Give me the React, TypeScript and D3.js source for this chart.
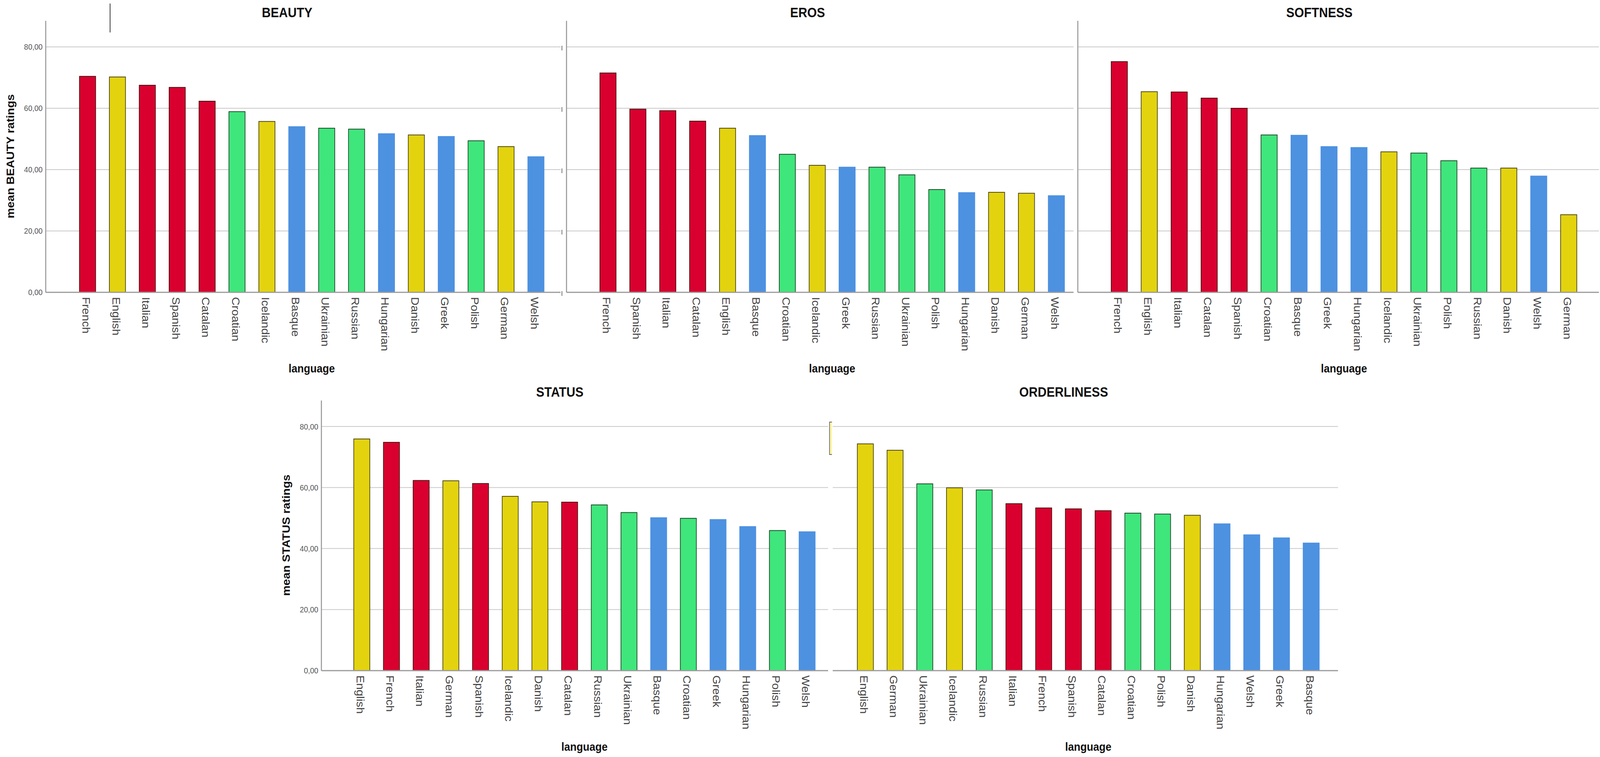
import * as d3 from "d3";

// language families (bar colours)
const romance = ["French", "Italian", "Spanish", "Catalan"];
const germanic = ["English", "Icelandic", "Danish", "German"];
const slavic = ["Croatian", "Ukrainian", "Russian", "Polish"];
const others = ["Basque", "Hungarian", "Greek", "Welsh"];

const yTicks = [0, 20, 40, 60, 80];

const beautyLangs = ["French", "English", "Italian", "Spanish", "Catalan", "Croatian", "Icelandic", "Basque", "Ukrainian", "Russian", "Hungarian", "Danish", "Greek", "Polish", "German", "Welsh"];
const beautyMeans = [70.4, 70.2, 67.5, 66.8, 62.3, 58.9, 55.7, 54.0, 53.5, 53.2, 51.7, 51.3, 50.8, 49.4, 47.5, 44.2];

const erosLangs = ["French", "Spanish", "Italian", "Catalan", "English", "Basque", "Croatian", "Icelandic", "Greek", "Russian", "Ukrainian", "Polish", "Hungarian", "Danish", "German", "Welsh"];
const erosMeans = [71.5, 59.7, 59.2, 55.8, 53.5, 51.1, 45.0, 41.4, 40.8, 40.8, 38.3, 33.5, 32.5, 32.6, 32.3, 31.5];

const softLangs = ["French", "English", "Italian", "Catalan", "Spanish", "Croatian", "Basque", "Greek", "Hungarian", "Icelandic", "Ukrainian", "Polish", "Russian", "Danish", "Welsh", "German"];
const softMeans = [75.2, 65.4, 65.3, 63.3, 60.0, 51.3, 51.2, 47.5, 47.2, 45.8, 45.4, 42.9, 40.5, 40.5, 37.9, 25.3];

const statusLangs = ["English", "French", "Italian", "German", "Spanish", "Icelandic", "Danish", "Catalan", "Russian", "Ukrainian", "Basque", "Croatian", "Greek", "Hungarian", "Polish", "Welsh"];
const statusMeans = [75.9, 74.8, 62.3, 62.2, 61.3, 57.1, 55.3, 55.2, 54.3, 51.8, 50.1, 49.9, 49.5, 47.2, 45.9, 45.5];

const orderLangs = ["English", "German", "Ukrainian", "Icelandic", "Russian", "Italian", "French", "Spanish", "Catalan", "Croatian", "Polish", "Danish", "Hungarian", "Welsh", "Greek", "Basque"];
const orderMeans = [74.3, 72.2, 61.2, 59.9, 59.2, 54.7, 53.3, 53.0, 52.4, 51.6, 51.3, 50.9, 48.1, 44.5, 43.5, 41.8];

const FONT = "'Liberation Sans', Arial, sans-serif";
const NARROW = "'Liberation Sans Narrow', 'Arial Narrow', 'Liberation Sans', Arial, sans-serif";

const fillFor = (lang: string) =>
  romance.includes(lang) ? "#d9002f" : germanic.includes(lang) ? "#e3d30f" : slavic.includes(lang) ? "#3fe67b" : "#4d91e1";
const strokeFor = (lang: string) =>
  romance.includes(lang) ? "#4a1010" : germanic.includes(lang) ? "#4e4818" : slavic.includes(lang) ? "#1f4a2c" : "#4d91e1";

const fmt = (v: number) => d3.format(".2f")(v).replace(".", ",");

type PanelProps = {
  title: string;
  langs: string[];
  means: number[];
  x0: number;
  gridStart: number;
  gridEnd: number;
  base: number;
  unit: number;
  pitch: number;
  lead: number;
  axisLine: boolean;
  tickLabels: boolean;
  stubTicks: boolean;
};

function Panel(p: PanelProps) {
  const y = d3.scaleLinear().domain([0, 80]).range([p.base, p.base - 80 * p.unit]);
  const x = d3
    .scaleBand<string>()
    .domain(p.langs)
    .range([p.x0 + p.lead, p.x0 + p.lead + 15 * p.pitch + 46])
    .paddingInner(0.46)
    .paddingOuter(0);
  const bw = x.bandwidth();
  const mid = ((x(p.langs[0]) ?? 0) + (x(p.langs[p.langs.length - 1]) ?? 0) + bw) / 2;
  const axisTop = y(88.5);

  return (
    <g>
      {/* gridlines */}
      {yTicks.filter((t) => t > 0).map((t) => (
        <line key={t} x1={p.gridStart} x2={p.gridEnd} y1={y(t)} y2={y(t)} stroke="#c9c9c9" strokeWidth={2} />
      ))}
      {/* y axis */}
      {p.axisLine && <line x1={p.x0} x2={p.x0} y1={axisTop} y2={p.base} stroke="#9a9a9a" strokeWidth={3} />}
      {p.tickLabels &&
        yTicks.map((t) => (
          <text key={t} x={p.x0 - 9} y={y(t)} dy="0.35em" textAnchor="end" fontSize={21} fill="#555" fontFamily={FONT}>
            {fmt(t)}
          </text>
        ))}
      {p.stubTicks &&
        yTicks.map((t) => (
          <line key={t} x1={p.x0 - 13} x2={p.x0 - 13} y1={y(t) - 3} y2={y(t) + 9} stroke="#666" strokeWidth={2} />
        ))}
      {p.tickLabels && (
        <text
          transform={`translate(${p.x0 - 100},${(y(0) + y(80)) / 2 - 34}) rotate(-90)`}
          textAnchor="middle"
          dominantBaseline="central"
          fontSize={30}
          fontWeight="bold"
          fill="#111"
          fontFamily={FONT}
        >
          {`mean ${p.title} ratings`}
        </text>
      )}
      {/* bars */}
      {p.langs.map((l, i) => (
        <rect
          key={l}
          x={x(l)}
          y={y(p.means[i])}
          width={bw}
          height={y(0) - y(p.means[i])}
          fill={fillFor(l)}
          stroke={strokeFor(l)}
          strokeWidth={2}
        />
      ))}
      {/* baseline */}
      <line x1={p.gridStart} x2={p.gridEnd} y1={p.base} y2={p.base} stroke="#9a9a9a" strokeWidth={3} />
      {/* category labels */}
      {p.langs.map((l) => (
        <text
          key={l}
          transform={`translate(${(x(l) ?? 0) + bw / 2 - 4},${p.base + 12}) rotate(90)`}
          dominantBaseline="central"
          fontSize={30}
          fill="#444"
          fontFamily={FONT}
        >
          {l}
        </text>
      ))}
      <text x={mid} y={p.base + 205} textAnchor="middle" fontSize={30} fontWeight="bold" fill="#111" fontFamily={FONT}>
        language
      </text>
      <text x={mid - 70} y={y(80) - 76} textAnchor="middle" fontSize={35} fontWeight="bold" fill="#111" fontFamily={NARROW}>
        {p.title}
      </text>
    </g>
  );
}

export default function App() {
  // fill whatever the viewport is, keeping the 4550x1937 drawing coordinates
  return (
    <div style={{ position: "fixed", left: 0, top: 0, width: "100vw", height: "100vh", background: "#fff", overflow: "hidden" }}>
      <svg viewBox="0 0 4550 1937" preserveAspectRatio="none" width="100%" height="100%" style={{ display: "block" }}>
        <rect width={4550} height={1937} fill="#fff" />
        {/* stray marks from the original export */}
        <line x1={313} x2={313} y1={9} y2={83} stroke="#222" strokeWidth={2} />
        <path d="M2366,1080 H2359 V1163 H2366" fill="#fdf6a8" stroke="#666" strokeWidth={2} />

        <Panel title="BEAUTY" langs={beautyLangs} means={beautyMeans} x0={130} gridStart={130} gridEnd={1594} base={748} unit={7.85} pitch={85} lead={96} axisLine tickLabels stubTicks={false} />
        <Panel title="EROS" langs={erosLangs} means={erosMeans} x0={1611} gridStart={1611} gridEnd={3053} base={748} unit={7.85} pitch={85} lead={95} axisLine tickLabels={false} stubTicks />
        <Panel title="SOFTNESS" langs={softLangs} means={softMeans} x0={3065} gridStart={3065} gridEnd={4547} base={748} unit={7.85} pitch={85.2} lead={95} axisLine tickLabels={false} stubTicks={false} />
        <Panel title="STATUS" langs={statusLangs} means={statusMeans} x0={914} gridStart={914} gridEnd={2355} base={1716} unit={7.81} pitch={84.4} lead={92} axisLine tickLabels stubTicks={false} />
        <Panel title="ORDERLINESS" langs={orderLangs} means={orderMeans} x0={2346} gridStart={2368} gridEnd={3805} base={1716} unit={7.81} pitch={84.5} lead={92} axisLine={false} tickLabels={false} stubTicks={false} />
      </svg>
    </div>
  );
}
